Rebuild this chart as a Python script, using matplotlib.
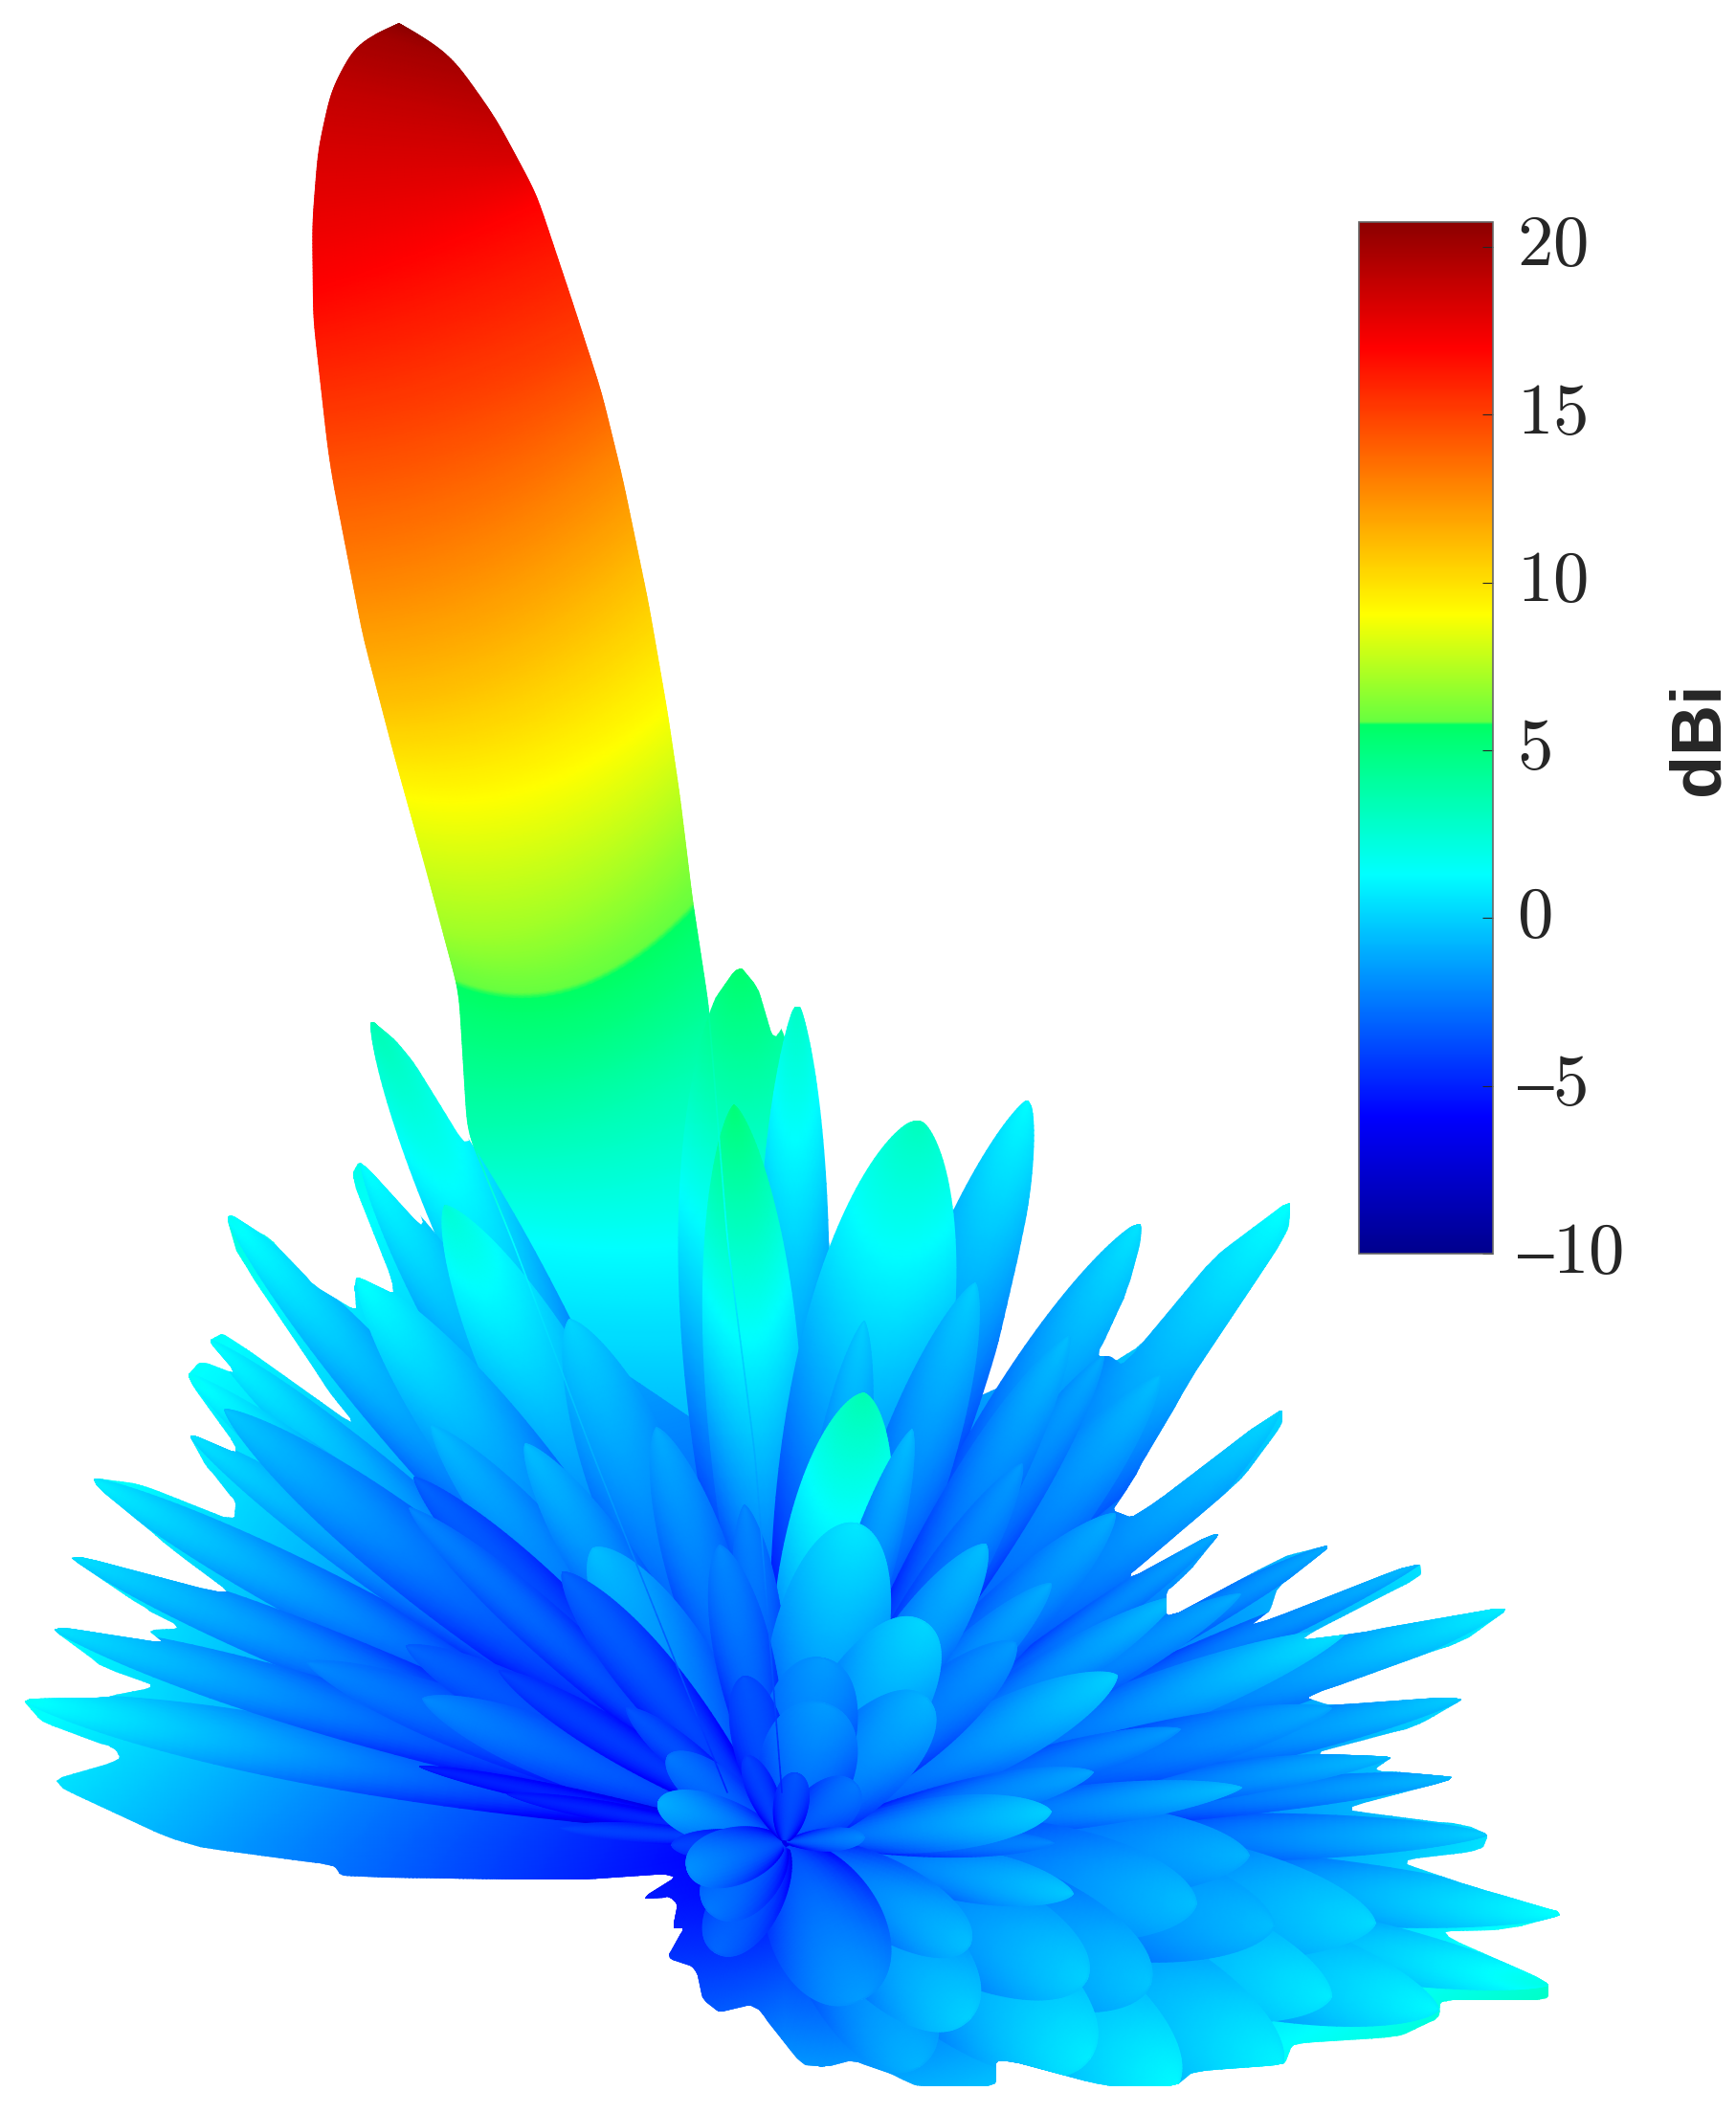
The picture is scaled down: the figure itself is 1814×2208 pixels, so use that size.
import numpy as np
import matplotlib
matplotlib.use('Agg')
import matplotlib.pyplot as plt
from matplotlib.colors import LinearSegmentedColormap, Normalize
from matplotlib.cm import ScalarMappable
from matplotlib.collections import LineCollection
from matplotlib.patches import Polygon
from matplotlib.transforms import ScaledTranslation

# all positions, in reference pixels
ORIGIN_X = 820
ORIGIN_Y = 1925
GAIN_MIN = -10
GAIN_MAX = 20.74

# colour bar stops
bar_gain = [-10, -5.9, 1.3, 5.75, 5.85, 9.05, 17.0, 20.74]
bar_colors = ['#00008c', '#0000ff', '#00ffff', '#00ff64', '#66ff40', '#ffff00', '#ff0000', '#8c0000']
bar_ticks = [-10, -5, 0, 5, 10, 15, 20]
bar_tick_labels = ['$\u201310$', '$\u20135$', '$0$', '$5$', '$10$', '$15$', '$20$']

# main beam outline
beam_left_out_y = [25, 28, 37, 93, 157, 233, 333, 467, 500, 665, 791, 913, 1036, 1183, 1295, 1521, 1873]
beam_left_out_x = [417, 400, 378, 347, 333, 327, 328, 343, 348, 380, 413, 447, 480, 489, 535, 620, 760]
beam_right_out_y = [25, 37, 57, 123, 203, 317, 410, 500, 630, 745, 833, 940, 1051, 1110, 1295, 1521, 1873]
beam_right_out_x = [417, 440, 470, 517, 560, 598, 628, 650, 677, 697, 710, 723, 740, 745, 760, 789, 817]
# where each gain level meets the beam edges
beam_gain = [20.74, 20.5, 20, 19, 18.3, 17, 15, 13, 11, 9, 7, 5.85, 3.5, 1.3, -1, -5]
beam_left_y = [25, 28, 37, 93, 157, 300, 450, 600, 735, 837, 975, 1024, 1183, 1295, 1521, 1873]
beam_right_y = [25, 37, 57, 123, 165, 210, 360, 470, 600, 745, 870, 944, 1110, 1295, 1521, 1873]
beam_sag = [0, 0, 0, 0, 0, 5, 15, 25, 30, 35, 40, 45, 20, 10, 0, 0]

# outline of the low fan of side lobes
fan_left_x = [710, 585, 356, 350, 195, 49, 126, 121, 46, 22, 109, 164, 109, 49, 172, 155, 189, 149, 63, 247, 178, 91,
              144, 244, 247, 215, 196, 253, 195, 210, 247, 218, 235, 373, 339, 247, 236, 281, 330, 373, 370, 373, 416,
              367, 376, 448]
fan_left_y = [1958, 1965, 1961, 1949, 1929, 1862, 1839, 1827, 1801, 1775, 1774, 1762, 1743, 1698, 1717, 1704, 1701,
              1679, 1621, 1669, 1618, 1544, 1550, 1589, 1570, 1531, 1497, 1521, 1438, 1422, 1436, 1400, 1393, 1492,
              1447, 1309, 1267, 1293, 1345, 1370, 1345, 1334, 1354, 1229, 1212, 1290]
fan_top_x = [600, 750, 900, 1033, 1170]
fan_top_y = [1400, 1500, 1550, 1450, 1427]
fan_right_x = [1349, 1346, 1240, 1181, 1162, 1185, 1340, 1340, 1294, 1167, 1279,
               1242, 1219, 1219, 1340, 1394, 1334, 1328, 1305, 1483, 1486, 1354, 1411, 1581, 1532, 1363, 1388, 1535,
               1480, 1368, 1457, 1434, 1529, 1397, 1532, 1555, 1549, 1460, 1546, 1638, 1575, 1500, 1618, 1618, 1506,
               1503, 1460, 1351, 1342, 1248, 1228, 1156, 1041, 1041, 958, 937, 893, 860, 837, 793, 783, 752, 735, 727,
               697, 715, 703, 708, 700, 670]
fan_right_y = [1253, 1287, 1448, 1551, 1579, 1586, 1470, 1489, 1550, 1656, 1597, 1643, 1663, 1692, 1627, 1613, 1660,
               1682, 1700, 1632, 1647, 1714, 1708, 1677, 1714, 1773, 1782, 1772, 1804, 1833, 1835, 1850, 1857, 1891,
               1907, 1917, 1933, 1945, 1974, 2000, 2016, 2019, 2071, 2090, 2090, 2109, 2129, 2135, 2158, 2164, 2180,
               2180, 2150, 2180, 2180, 2170, 2153, 2160, 2157, 2100, 2095, 2103, 2090, 2057, 2045, 2015, 2015, 1990,
               1982, 1985]
# top edge of the tall lobes, they are cut to this
lobes_top_x = [402, 381, 388, 423, 493, 475, 481, 741, 772, 791, 809, 833, 861, 879, 886, 900, 925, 960, 995, 998, 1033,
               1061, 1075, 1087, 1072, 1033, 1100, 1153, 1191, 1195, 1177, 1146, 1160, 1174, 1268]
lobes_top_y = [1176, 1092, 1065, 1096, 1207, 1080, 1038, 1051, 1009, 1030, 1088, 1047, 1092, 1180, 1237, 1199, 1180,
               1170, 1188, 1256, 1195, 1153, 1149, 1184, 1276, 1450, 1364, 1291, 1278, 1287, 1352, 1417, 1417, 1427,
               1314]
# how fast gain grows with distance, by direction around the origin
fan_theta = [-180, -170, -150, -90, -60, -37, -18, -7, 0, 90, 170, 180]
fan_scale = [0.85, 0.75, 0.9, 2.1, 1.9, 1.7, 1.3, 1.05, 0.95, 1.0, 1.0, 0.85]

# side lobes: tip x, tip y, half width, tip gain
lobe_x = [772, 833, 388, 377, 1075, 960, 767, 1191, 1349, 465, 374, 595, 1019, 903, 903, 686, 1117, 549, 451, 1153,
          1212, 1339, 1068, 953, 236, 218, 195, 196, 91, 63, 49, 22, 235, 620, 588, 433, 428, 752, 778, 321, 425,
          442, 522, 655, 698, 688, 585, 531, 439, 718, 740, 747, 861, 777, 895, 780, 832,
          1165, 1098, 1030, 1230, 1296, 1408, 1167, 966, 1061, 969, 1233, 1142, 1297, 1098, 1101, 1121, 1391,
          1279, 1340, 1394, 1486, 1581, 1535, 1457, 1529, 1555, 1638, 1618,
          1013, 1136, 1013, 1139, 1305, 1331, 1437, 1202, 1391, 1503, 1340, 1230, 895, 862, 702, 903,
          900, 960, 1250]
lobe_y = [1009, 1047, 1065, 1212, 1149, 1170, 1155, 1278, 1253, 1260, 1333, 1379, 1341, 1381, 1456, 1492, 1396, 1509,
          1490, 1417, 1438, 1469, 1530, 1494, 1267, 1400, 1435, 1497, 1544, 1619, 1698, 1775, 1473, 1618, 1643, 1544,
          1576, 1615, 1573, 1737, 1720, 1775, 1746, 1785, 1835, 1883, 1910, 1875, 1846, 1953, 1997, 2040, 1733, 1752,
          1592, 1835, 1853,
          1582, 1655, 1614, 1669, 1666, 1704, 1751, 1695, 1717, 1775, 1807, 1852, 1868, 1893, 1926, 1979, 1785,
          1597, 1470, 1613, 1632, 1677, 1772, 1835, 1856, 1917, 2000, 2074,
          2033, 2068, 2110, 2151, 1939, 2013, 2010, 2074, 2087, 2100, 2158, 2180, 1865, 1780, 1928, 1920,
          2090, 2160, 1990]
lobe_w = [80, 38, 45, 38, 50, 80, 50, 45, 55, 55, 50, 50, 40, 30, 55, 35, 35, 35, 35, 30, 40, 40, 30, 25, 35, 30, 30,
          28, 30, 28, 28, 32, 40, 45, 30, 30, 25, 30, 25, 30, 30, 30, 20, 18, 25, 25, 10, 10, 10, 30, 35, 35, 50, 28,
          60, 15, 18,
          35, 28, 35, 25, 25, 30, 35, 55, 35, 45, 22, 22, 22, 28, 15, 28, 30,
          18, 30, 18, 18, 30, 24, 20, 18, 25, 35, 35,
          40, 60, 60, 75, 50, 65, 65, 70, 70, 60, 80, 80, 28, 50, 15, 12,
          60, 60, 60]
lobe_g = [5.6, 3, 3.5, 1.5, 1.3, 3.2, 5.2, 0.6, 1.5, 2.5, 1.5, 0.2, 0, 0, 3.5, -1, -0.5, -0.5, -0.5, -1, -0.5, 0.3, -1.5, -0.5,
          1.6, 1.4, 1.6, 0.6, 1, 0.6, 0.6, 1.6, -0.2, -0.5, -3, -3, -2, -2, -2, -2, -3, -2, -4, -3.5, -2.5, -1, -4, -5, -5, -1.8,
          -2.5, -3, -1.5, -3.5, 0.7, -4, -3.5,
          -1, -1, -0.5, -0.5, -1, 0.6, 0, 0.2, -1.5, -0.8, -1.5, -1.2, -0.5, 0, -2, -0.2, -1,
          -1, 0.5, -1, -0.5, 1, 0, -0.5, -0.5, 0, 1.5, 2,
          -0.5, 0, 0, 0.8, -0.8, -0.5, 0.3, -0.3, 0.8, 1.2, 1, 1.2, -2.5, -1.5, -4, -2,
          -1.5, -0.8, -0.5]

jet_like = LinearSegmentedColormap.from_list(
    'pattern', [((g - GAIN_MIN) / (GAIN_MAX - GAIN_MIN), c) for g, c in zip(bar_gain, bar_colors)], N=1024)
norm = Normalize(GAIN_MIN, GAIN_MAX)


def rounded(x, y, times=2, cut=0.12):
	# corner cutting, the traced outlines are too angular otherwise
	pts = np.column_stack([x, y]).astype(float)
	for n in range(times):
		nxt = np.roll(pts, -1, axis=0)
		pts = np.column_stack([(1 - cut) * pts + cut * nxt, cut * pts + (1 - cut) * nxt]).reshape(-1, 2)
	return pts


def smooth_edge(out_y, out_x, sigma=14):
	yy = np.arange(out_y[0], out_y[-1] + 1)
	xx = np.interp(yy, out_y, out_x)
	r = int(3 * sigma)
	kernel = np.exp(-0.5 * (np.arange(-r, r + 1) / sigma) ** 2)
	kernel /= kernel.sum()
	pad = np.pad(xx, r, mode='reflect', reflect_type='odd')
	return yy, np.convolve(pad, kernel, mode='valid')


def edge_line(ax, x, y, g):
	# soft outline so the mesh edge is not jagged
	pts = np.column_stack([x, y])
	segs = np.stack([pts[:-1], pts[1:]], axis=1)
	lc = LineCollection(segs, cmap=jet_like, norm=norm, linewidths=1.2, capstyle='round')
	lc.set_array((np.asarray(g)[:-1] + np.asarray(g)[1:]) / 2)
	ax.add_collection(lc)


def draw_beam(ax):
	rows = np.linspace(0, len(beam_gain) - 1, 600)
	idx = np.arange(len(beam_gain))
	ly = np.interp(rows, idx, beam_left_y)
	ry = np.interp(rows, idx, beam_right_y)
	ey, ex = smooth_edge(beam_left_out_y, beam_left_out_x)
	lx = np.interp(ly, ey, ex)
	ey, ex = smooth_edge(beam_right_out_y, beam_right_out_x)
	rx = np.interp(ry, ey, ex)
	sag = np.interp(rows, idx, beam_sag)
	g = np.interp(rows, idx, beam_gain)
	t = np.linspace(-1, 1, 31)
	u = (t + 1) / 2
	X = np.outer(lx, 1 - u) + np.outer(rx, u)
	Y = np.outer(ly, 1 - u) + np.outer(ry, u) + np.outer(sag, 1 - t ** 2)
	C = np.outer(g, np.ones_like(t))
	ax.pcolormesh(X, Y, C, shading='gouraud', cmap=jet_like, norm=norm)
	edge_line(ax, lx, ly, g)
	edge_line(ax, rx, ry, g)


def draw_fan(ax):
	radius = np.linspace(1, 1000, 250)
	theta = np.radians(np.linspace(-180, 180, 721))
	R, T = np.meshgrid(radius, theta)
	X = ORIGIN_X + R * np.cos(T)
	Y = ORIGIN_Y - R * np.sin(T)
	scale = np.interp(np.degrees(T), fan_theta, fan_scale)
	C = -6.5 + 8 * (R * scale / 800)
	mesh = ax.pcolormesh(X, Y, C, shading='gouraud', cmap=jet_like, norm=norm)
	outline = rounded(fan_left_x + fan_top_x + fan_right_x, fan_left_y + fan_top_y + fan_right_y)
	patch = Polygon(outline, closed=True, transform=ax.transData, fc='none', ec='none')
	ax.add_patch(patch)
	mesh.set_clip_path(patch)


def draw_lobe(ax, tx, ty, w, tip_gain, clip):
	dx = tx - ORIGIN_X
	dy = ty - ORIGIN_Y
	length = np.hypot(dx, dy)
	ux, uy = dx / length, dy / length
	# narrow lobes come to a point, fat ones stay round and open up early
	taper = np.interp(w / length, [0.05, 0.2], [0.75, 0.45])
	opening = np.interp(w / length, [0.05, 0.2], [1.2, 0.6])
	rise = np.interp(length, [200, 800], [0.65, 1.1])
	base_gain = np.interp(length, [200, 800], [-4.2, -6.5])
	s = np.sin(np.linspace(0.02, 1, 70) * np.pi / 2)
	shape = s ** opening * np.clip(1 - s, 0, 1) ** taper
	half = w * shape / shape.max()
	t = np.linspace(-1, 1, 15)
	along = np.outer(s * length, np.ones_like(t))
	across = np.outer(half, t)
	X = ORIGIN_X + along * ux - across * uy
	Y = ORIGIN_Y + along * uy + across * ux
	ridge = base_gain + (tip_gain - base_gain) * s ** rise
	C = np.outer(ridge, np.ones_like(t)) - np.outer(0.3 + 2.5 * (1 - s), t ** 2)
	mesh = ax.pcolormesh(X, Y, C, shading='gouraud', cmap=jet_like, norm=norm)
	mesh.set_clip_path(clip)


fig = plt.figure(figsize=(18.14, 22.08), dpi=100)
ax = fig.add_axes([0, 0, 1, 1])
ax.set_xlim(0, 1814)
ax.set_ylim(2208, 0)
ax.axis('off')

draw_beam(ax)
draw_fan(ax)

clip_outline = rounded(fan_left_x + lobes_top_x + fan_right_x, fan_left_y + lobes_top_y + fan_right_y)
clip_patch = Polygon(clip_outline, closed=True, transform=ax.transData, fc='none', ec='none')
ax.add_patch(clip_patch)

# long lobes at the back, short ones in front
dist = np.hypot(np.array(lobe_x) - ORIGIN_X, np.array(lobe_y) - ORIGIN_Y)
for i in np.argsort(-dist):
	draw_lobe(ax, lobe_x[i], lobe_y[i], lobe_w[i], lobe_g[i], clip_patch)

cax = fig.add_axes([1420 / 1814, 1 - 1310 / 2208, 140 / 1814, 1078 / 2208])
cb = fig.colorbar(ScalarMappable(norm=norm, cmap=jet_like), cax=cax)
cb.set_ticks(bar_ticks)
cb.set_ticklabels(bar_tick_labels)
cb.outline.set_edgecolor('#666666')
cb.outline.set_linewidth(1.2)
cax.tick_params(direction='in', length=8, width=0.8, pad=18, labelsize=54, labelcolor='#262626', color='#262626')
shift = ScaledTranslation(0, 9 / 100, fig.dpi_scale_trans)
for lab in cax.get_yticklabels():
	lab.set_math_fontfamily('cm')
	lab.set_transform(lab.get_transform() + shift)

fig.text(1776 / 1814, 1 - 772 / 2208, 'dBi', rotation=90, ha='center', va='center',
	family='Liberation Sans', weight='bold', fontsize=53, color='#262626')

fig.savefig('out.png', dpi=100)
